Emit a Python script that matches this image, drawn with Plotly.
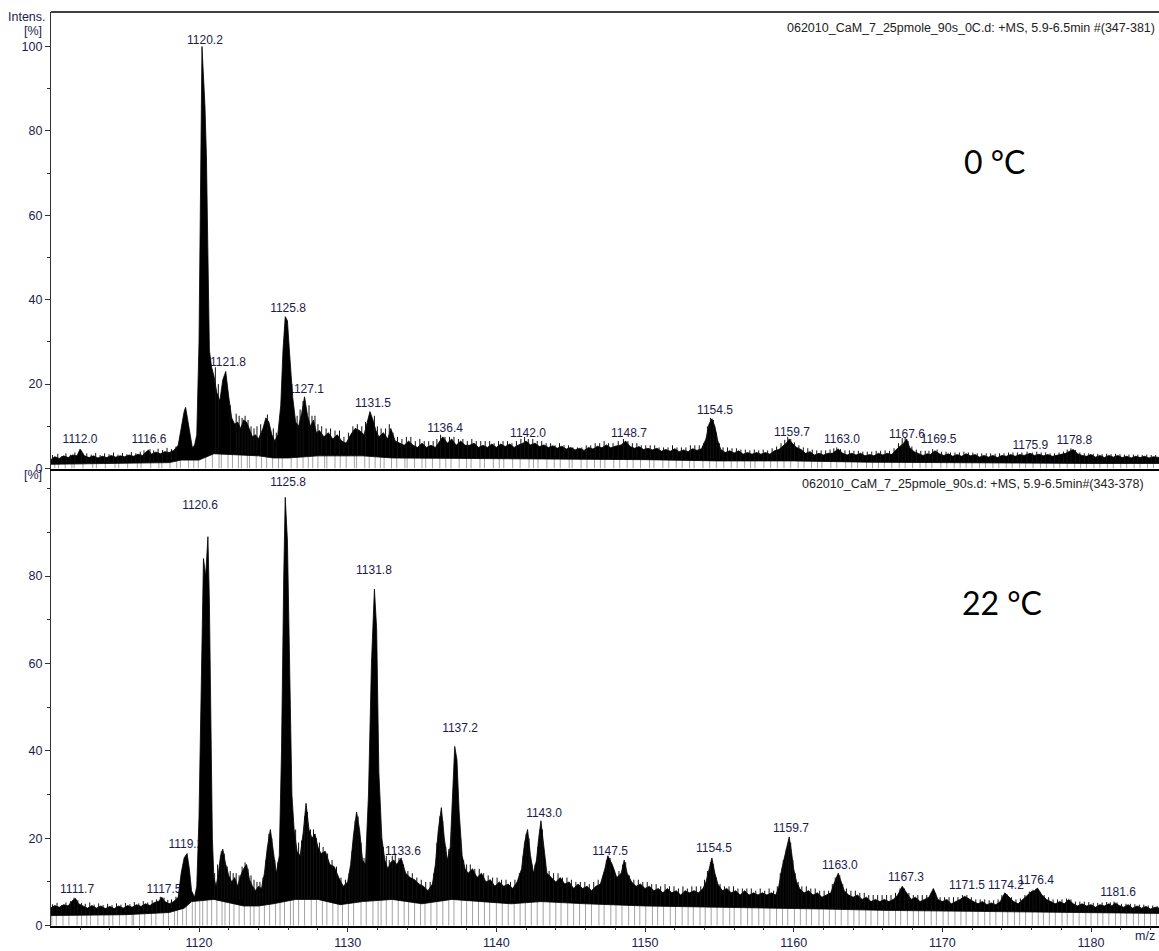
import numpy as np
import plotly.graph_objects as go

# ---------------- 0 °C spectrum (upper edge of the profile band) ----------------
mz_0c = [
    1110.0, 1110.3, 1110.6, 1110.9, 1111.2, 1111.5, 1111.8, 1112.0, 1112.3, 1112.6,
    1112.9, 1113.2, 1113.5, 1113.8, 1114.1, 1114.4, 1114.7, 1115.0, 1115.3, 1115.6,
    1115.9, 1116.2, 1116.4, 1116.6, 1116.8, 1117.1, 1117.4, 1117.7, 1118.0, 1118.3,
    1118.6, 1118.8, 1119.0, 1119.1, 1119.25, 1119.4, 1119.55, 1119.7, 1119.85, 1120.0,
    1120.1, 1120.2, 1120.3, 1120.4, 1120.5, 1120.6, 1120.7, 1120.85, 1121.0, 1121.2,
    1121.4, 1121.6, 1121.8, 1122.0, 1122.2, 1122.4, 1122.6, 1122.8, 1123.0, 1123.2,
    1123.4, 1123.6, 1123.8, 1124.0, 1124.3, 1124.5, 1124.7, 1124.9, 1125.1, 1125.3,
    1125.5, 1125.65, 1125.8, 1125.95, 1126.1, 1126.3, 1126.5, 1126.7, 1126.9, 1127.1,
    1127.3, 1127.5, 1127.7, 1127.9, 1128.1, 1128.4, 1128.7, 1129.0, 1129.3, 1129.6,
    1129.9, 1130.2, 1130.5, 1130.8, 1131.1, 1131.3, 1131.5, 1131.7, 1131.9, 1132.1,
    1132.4, 1132.7, 1132.9, 1133.2, 1133.5, 1133.8, 1134.1, 1134.4, 1134.7, 1135.0,
    1135.3, 1135.6, 1135.9, 1136.1, 1136.4, 1136.7, 1137.0, 1137.3, 1137.6, 1137.9,
    1138.2, 1138.5, 1138.8, 1139.1, 1139.4, 1139.7, 1140.0, 1140.3, 1140.6, 1140.9,
    1141.2, 1141.5, 1141.8, 1142.0, 1142.3, 1142.6, 1142.9, 1143.2, 1143.5, 1143.8,
    1144.1, 1144.4, 1144.7, 1145.0, 1145.3, 1145.6, 1145.9, 1146.2, 1146.5, 1146.8,
    1147.1, 1147.4, 1147.7, 1148.0, 1148.4, 1148.7, 1149.0, 1149.3, 1149.6, 1149.9,
    1150.2, 1150.5, 1150.8, 1151.1, 1151.4, 1151.7, 1152.0, 1152.3, 1152.6, 1152.9,
    1153.2, 1153.5, 1153.8, 1154.1, 1154.3, 1154.5, 1154.7, 1154.9, 1155.1, 1155.4,
    1155.7, 1156.0, 1156.3, 1156.6, 1156.9, 1157.2, 1157.5, 1157.8, 1158.1, 1158.4,
    1158.7, 1159.0, 1159.3, 1159.5, 1159.7, 1159.9, 1160.2, 1160.5, 1160.8, 1161.1,
    1161.4, 1161.7, 1162.0, 1162.3, 1162.6, 1162.8, 1163.0, 1163.3, 1163.6, 1163.9,
    1164.2, 1164.5, 1164.8, 1165.1, 1165.4, 1165.7, 1166.0, 1166.3, 1166.6, 1166.9,
    1167.2, 1167.4, 1167.6, 1167.8, 1168.1, 1168.4, 1168.7, 1169.0, 1169.2, 1169.5,
    1169.8, 1170.1, 1170.4, 1170.7, 1171.0, 1171.3, 1171.6, 1171.9, 1172.2, 1172.5,
    1172.8, 1173.1, 1173.4, 1173.7, 1174.0, 1174.3, 1174.6, 1174.9, 1175.2, 1175.5,
    1175.9, 1176.2, 1176.5, 1176.8, 1177.1, 1177.4, 1177.7, 1178.0, 1178.3, 1178.5,
    1178.8, 1179.1, 1179.4, 1179.7, 1180.0, 1180.3, 1180.6, 1180.9, 1181.2, 1181.5,
    1181.8, 1182.1, 1182.4, 1182.7, 1183.0, 1183.3, 1183.6, 1183.9, 1184.2, 1184.6,
]
int_0c = [
    2.0, 2.8, 2.4, 3.0, 2.6, 3.2, 3.0, 4.6, 3.0, 2.6,
    3.0, 2.5, 2.9, 2.6, 3.1, 2.7, 3.0, 2.8, 3.2, 2.9,
    3.4, 3.1, 3.8, 4.4, 3.4, 3.9, 3.5, 4.0, 3.8, 4.3,
    5.5, 10.0, 13.5, 14.5, 11.0, 8.0, 5.0, 5.5, 8.0, 30.0,
    70.0, 100.0, 93.0, 86.0, 74.0, 45.0, 28.0, 24.0, 22.0, 18.0,
    16.0, 21.0, 23.0, 17.0, 12.0, 10.5, 11.0, 9.5, 11.5, 11.0,
    9.0, 7.5, 8.0, 7.0, 9.5, 12.0, 11.0, 8.0, 6.5, 8.0,
    15.0, 28.0, 36.0, 35.0, 27.0, 17.0, 11.0, 10.0, 13.0, 17.0,
    12.5, 10.0, 11.5, 8.5, 9.0, 7.5, 8.5, 7.0, 8.0, 6.5,
    6.0, 8.0, 9.5, 9.0, 8.0, 10.5, 13.5, 11.5, 9.0, 7.5,
    8.5, 7.0, 9.5, 6.5, 6.0, 5.5, 6.5, 5.5, 5.0, 6.0,
    5.0, 5.5, 5.0, 6.0, 7.5, 6.0, 7.0, 5.5, 6.5, 5.5,
    5.5, 6.0, 5.0, 5.5, 5.0, 5.8, 5.0, 5.8, 5.2, 5.8,
    5.0, 5.6, 6.0, 6.5, 5.6, 6.0, 5.2, 5.6, 5.0, 5.4,
    4.8, 5.3, 4.6, 5.0, 4.4, 4.8, 4.3, 5.0, 4.6, 5.3,
    4.9, 5.6, 4.9, 5.3, 5.6, 6.5, 5.2, 4.8, 5.2, 4.5,
    4.8, 4.4, 4.8, 4.1, 4.5, 4.1, 4.7, 4.0, 4.4, 4.0,
    4.7, 4.3, 4.7, 7.0, 10.5, 11.8, 10.0, 6.5, 4.5, 3.8,
    4.2, 3.7, 4.2, 3.4, 3.8, 3.4, 3.8, 3.4, 3.8, 3.4,
    4.2, 4.5, 5.5, 6.0, 7.0, 6.0, 5.0, 4.5, 3.6, 4.0,
    3.2, 3.6, 3.2, 3.6, 3.6, 4.0, 4.6, 3.6, 3.2, 3.6,
    3.2, 3.6, 3.0, 3.3, 3.0, 3.6, 3.2, 3.6, 3.3, 4.5,
    5.5, 6.0, 7.0, 5.0, 4.0, 3.5, 3.1, 3.5, 3.3, 4.2,
    3.5, 3.1, 3.5, 2.9, 3.3, 2.9, 3.5, 3.0, 3.3, 2.7,
    3.1, 2.7, 3.1, 2.6, 3.1, 2.9, 3.3, 2.9, 3.3, 3.1,
    3.6, 3.1, 3.4, 3.0, 3.3, 2.9, 3.1, 3.3, 3.6, 4.0,
    4.5, 3.5, 3.1, 2.9, 3.3, 2.7, 3.1, 2.6, 3.1, 2.7,
    3.1, 2.6, 2.9, 2.5, 2.9, 2.6, 2.9, 2.5, 2.8, 2.6,
]
# lower edge of the dense profile band
base_mz_0c = [1110.0, 1114.0, 1118.0, 1118.8, 1120.0, 1121.0, 1124.0, 1125.0, 1126.0, 1128.0,
              1131.0, 1133.0, 1140.0, 1150.0, 1155.0, 1160.0, 1165.0, 1170.0, 1175.0, 1180.0, 1184.6]
base_0c = [1.0, 1.2, 1.4, 2.0, 2.0, 3.5, 3.0, 2.5, 2.5, 3.0,
           3.0, 2.5, 2.3, 2.1, 1.8, 1.8, 1.5, 1.4, 1.3, 1.2, 1.2]
# fine noise spikes rising above the band
spike_mz_0c = [
    1110.15, 1110.5, 1110.75, 1111.05, 1111.35, 1111.65, 1112.1, 1112.45, 1112.75, 1113.05,
    1113.35, 1113.65, 1113.95, 1114.25, 1114.55, 1114.85, 1115.15, 1115.45, 1115.75, 1116.05,
    1116.3, 1116.7, 1116.95, 1117.25, 1117.55, 1117.85, 1118.15, 1118.45,
    1121.1, 1121.3, 1122.1, 1122.5, 1122.7, 1122.9, 1123.1, 1123.3, 1123.5, 1123.7,
    1123.9, 1124.15, 1124.6, 1125.0, 1125.2, 1126.6, 1126.8, 1127.0, 1127.4, 1127.6,
    1127.8, 1128.0, 1128.25, 1128.55, 1128.85, 1129.15, 1129.45, 1129.75, 1130.05, 1130.35,
    1130.65, 1130.95, 1131.2, 1131.8, 1132.0, 1132.25, 1132.55, 1132.8, 1133.05, 1133.35,
    1133.65, 1133.95, 1134.25, 1134.55, 1134.85, 1135.15, 1135.45, 1135.75, 1136.0, 1136.25,
    1136.55, 1136.85, 1137.15, 1137.45, 1137.75, 1138.05, 1138.35, 1138.65, 1138.95, 1139.25,
    1139.55, 1139.85, 1140.15, 1140.45, 1140.75, 1141.05, 1141.35, 1141.65, 1141.9, 1142.15,
    1142.45, 1142.75, 1143.05, 1143.35, 1143.65, 1143.95, 1144.25, 1144.55, 1144.85, 1145.15,
    1145.45, 1145.75, 1146.05, 1146.35, 1146.65, 1146.95, 1147.25, 1147.55, 1147.85, 1148.2,
    1148.55, 1148.85, 1149.15, 1149.45, 1149.75, 1150.05, 1150.35, 1150.65, 1150.95, 1151.25,
    1151.55, 1151.85, 1152.15, 1152.45, 1152.75, 1153.05, 1153.35, 1153.65, 1153.95, 1154.2,
    1154.4, 1154.6, 1154.8, 1155.0, 1155.25, 1155.55, 1155.85, 1156.15, 1156.45, 1156.75,
    1157.05, 1157.35, 1157.65, 1157.95, 1158.25, 1158.55, 1158.85, 1159.15, 1159.4, 1159.6,
    1159.8, 1160.05, 1160.35, 1160.65, 1160.95, 1161.25, 1161.55, 1161.85, 1162.15, 1162.45,
    1162.7, 1162.9, 1163.15, 1163.45, 1163.75, 1164.05, 1164.35, 1164.65, 1164.95, 1165.25,
    1165.55, 1165.85, 1166.15, 1166.45, 1166.75, 1167.05, 1167.3, 1167.5, 1167.7, 1167.95,
    1168.25, 1168.55, 1168.85, 1169.1, 1169.35, 1169.65, 1169.95, 1170.25, 1170.55, 1170.85,
    1171.15, 1171.45, 1171.75, 1172.05, 1172.35, 1172.65, 1172.95, 1173.25, 1173.55, 1173.85,
    1174.15, 1174.45, 1174.75, 1175.05, 1175.35, 1175.7, 1176.05, 1176.35, 1176.65, 1176.95,
    1177.25, 1177.55, 1177.85, 1178.15, 1178.4, 1178.65, 1178.95, 1179.25, 1179.55, 1179.85,
    1180.15, 1180.45, 1180.75, 1181.05, 1181.35, 1181.65, 1181.95, 1182.25, 1182.55, 1182.85,
    1183.15, 1183.45, 1183.75, 1184.05, 1184.35,
]
spike_0c = [
    3.2, 3.5, 2.9, 3.6, 3.3, 3.8, 4.2, 3.6, 3.3, 3.7,
    3.2, 3.6, 3.4, 3.8, 3.3, 3.7, 3.4, 3.9, 3.6, 4.0,
    4.3, 4.6, 4.3, 4.7, 4.4, 4.9, 4.6, 5.2,
    24.0, 20.0, 15.0, 13.0, 12.5, 12.0, 12.5, 11.5, 10.0, 9.5,
    10.0, 10.5, 12.8, 9.5, 8.5, 12.5, 14.0, 16.0, 15.0, 12.5,
    12.5, 10.5, 10.0, 9.5, 9.5, 9.0, 9.0, 7.5, 8.5, 10.0,
    10.5, 10.0, 11.0, 12.5, 10.0, 9.5, 9.5, 10.5, 8.5, 7.5,
    7.0, 7.5, 7.5, 6.5, 7.0, 6.5, 6.5, 6.5, 7.0, 8.0,
    7.5, 7.5, 7.5, 7.0, 7.0, 6.5, 7.0, 6.5, 6.5, 6.5,
    6.5, 6.0, 6.5, 6.5, 6.5, 6.0, 6.5, 7.0, 7.5, 7.0,
    7.0, 6.5, 6.5, 6.0, 6.0, 5.5, 6.0, 5.5, 5.5, 5.0,
    5.0, 5.0, 5.5, 5.5, 6.0, 6.0, 6.5, 6.0, 6.0, 6.5,
    7.0, 6.5, 6.0, 6.0, 5.5, 5.5, 5.5, 5.5, 5.0, 5.0,
    5.0, 5.5, 5.0, 5.0, 5.0, 5.5, 5.5, 5.5, 6.0, 10.0,
    12.0, 11.5, 8.5, 6.0, 5.0, 5.0, 4.8, 4.8, 4.5, 4.5,
    4.3, 4.5, 4.3, 4.5, 4.3, 4.8, 5.2, 6.0, 6.8, 7.5,
    7.0, 6.2, 5.5, 5.0, 4.8, 4.5, 4.3, 4.3, 4.3, 4.5,
    4.8, 5.0, 4.6, 4.3, 4.3, 4.2, 4.2, 4.0, 4.0, 4.0,
    4.2, 4.2, 4.3, 4.2, 4.8, 6.0, 7.2, 7.4, 6.5, 5.2,
    4.5, 4.2, 4.2, 4.2, 4.6, 4.5, 4.0, 4.0, 3.8, 3.8,
    3.8, 4.0, 3.8, 3.8, 3.6, 3.6, 3.6, 3.6, 3.5, 3.6,
    3.6, 3.8, 3.8, 3.8, 3.8, 4.0, 3.8, 4.0, 3.8, 3.8,
    3.6, 3.6, 3.8, 4.0, 4.5, 4.8, 4.4, 3.8, 3.6, 3.6,
    3.5, 3.5, 3.4, 3.5, 3.4, 3.5, 3.4, 3.3, 3.3, 3.3,
    3.3, 3.2, 3.3, 3.2, 3.2,
]
# single-scan drop-outs to zero
drops_0c = [
    1110.3, 1110.55, 1111.0, 1111.45, 1111.6, 1112.2, 1112.85, 1113.1, 1113.7, 1114.35,
    1114.6, 1115.2, 1115.85, 1116.1, 1116.75, 1117.3, 1117.5, 1118.05, 1118.5, 1118.75,
    1119.3, 1119.65, 1119.95, 1120.45, 1120.9, 1121.35, 1121.5, 1121.95, 1122.25, 1122.65,
    1122.85, 1123.25, 1123.4, 1123.85, 1124.2, 1124.55, 1124.95, 1125.35, 1125.6, 1126.2,
    1126.6, 1127.0, 1127.35, 1127.65, 1128.0, 1128.45, 1128.6, 1129.15, 1129.5, 1129.9,
    1130.45, 1130.6, 1131.15, 1131.45, 1131.85, 1132.2, 1132.45, 1132.95, 1133.3, 1133.85,
    1134.0, 1134.5, 1135.0, 1135.25, 1135.7, 1136.2, 1136.6, 1136.95, 1137.5, 1138.0,
    1138.3, 1138.9, 1139.2, 1139.8, 1140.2, 1140.5, 1141.1, 1141.6, 1142.2, 1142.5,
    1142.8, 1143.4, 1143.9, 1144.3, 1144.9, 1145.1, 1145.7, 1146.1, 1146.6, 1147.0,
    1147.3, 1147.9, 1148.3, 1148.8, 1149.2, 1149.7, 1150.3, 1150.6, 1151.2, 1151.6,
    1152.1, 1152.5, 1153.0, 1153.3, 1153.9, 1154.35, 1154.8, 1155.3, 1155.8, 1156.2,
    1156.7, 1157.1, 1157.4, 1158.0, 1158.45, 1158.9, 1159.35, 1159.8, 1160.3, 1160.7,
    1161.2, 1161.6, 1161.9, 1162.5, 1162.9, 1163.5, 1163.9, 1164.3, 1164.9, 1165.3,
    1165.7, 1166.1, 1166.6, 1167.1, 1167.5, 1168.0, 1168.5, 1168.9, 1169.3, 1169.9,
    1170.3, 1170.8, 1171.2, 1171.6, 1172.0, 1172.5, 1172.9, 1173.4, 1173.8, 1174.3,
    1174.7, 1175.2, 1175.6, 1176.1, 1176.6, 1177.0, 1177.5, 1177.9, 1178.4, 1178.9,
    1179.3, 1179.7, 1180.2, 1180.6, 1181.1, 1181.5, 1182.0, 1182.4, 1182.9, 1183.3,
    1183.8, 1184.2,
]

# ---------------- 22 °C spectrum ----------------
mz_22c = [
    1110.0, 1110.3, 1110.6, 1110.9, 1111.2, 1111.5, 1111.7, 1111.9, 1112.2, 1112.5,
    1112.8, 1113.1, 1113.4, 1113.7, 1114.0, 1114.3, 1114.6, 1114.9, 1115.2, 1115.5,
    1115.8, 1116.1, 1116.4, 1116.7, 1117.0, 1117.3, 1117.5, 1117.7, 1118.0, 1118.3,
    1118.6, 1118.8, 1119.0, 1119.2, 1119.35, 1119.5, 1119.7, 1119.85, 1120.0, 1120.15,
    1120.3, 1120.45, 1120.6, 1120.7, 1120.8, 1120.9, 1121.0, 1121.15, 1121.3, 1121.45,
    1121.6, 1121.8, 1122.0, 1122.2, 1122.4, 1122.6, 1122.8, 1123.0, 1123.2, 1123.4,
    1123.6, 1123.8, 1124.0, 1124.2, 1124.4, 1124.6, 1124.8, 1125.0, 1125.2, 1125.4,
    1125.55, 1125.7, 1125.8, 1125.95, 1126.1, 1126.25, 1126.4, 1126.6, 1126.8, 1127.0,
    1127.2, 1127.4, 1127.6, 1127.8, 1128.0, 1128.2, 1128.5, 1128.8, 1129.1, 1129.4,
    1129.7, 1130.0, 1130.2, 1130.4, 1130.6, 1130.8, 1131.0, 1131.2, 1131.4, 1131.6,
    1131.8, 1131.95, 1132.1, 1132.3, 1132.5, 1132.7, 1132.9, 1133.1, 1133.3, 1133.6,
    1133.9, 1134.2, 1134.5, 1134.8, 1135.1, 1135.4, 1135.7, 1135.9, 1136.1, 1136.3,
    1136.5, 1136.7, 1136.9, 1137.05, 1137.2, 1137.35, 1137.5, 1137.7, 1137.9, 1138.1,
    1138.4, 1138.7, 1139.0, 1139.3, 1139.6, 1139.9, 1140.2, 1140.5, 1140.8, 1141.1,
    1141.4, 1141.7, 1141.9, 1142.1, 1142.3, 1142.5, 1142.7, 1142.85, 1143.0, 1143.2,
    1143.4, 1143.7, 1144.0, 1144.3, 1144.6, 1144.9, 1145.2, 1145.5, 1145.8, 1146.1,
    1146.4, 1146.7, 1147.0, 1147.3, 1147.5, 1147.8, 1148.1, 1148.4, 1148.6, 1148.8,
    1149.1, 1149.4, 1149.7, 1150.0, 1150.3, 1150.6, 1150.9, 1151.2, 1151.5, 1151.8,
    1152.1, 1152.4, 1152.7, 1153.0, 1153.3, 1153.6, 1153.9, 1154.1, 1154.3, 1154.5,
    1154.7, 1154.9, 1155.2, 1155.5, 1155.8, 1156.1, 1156.4, 1156.7, 1157.0, 1157.3,
    1157.6, 1157.9, 1158.2, 1158.5, 1158.8, 1159.0, 1159.2, 1159.4, 1159.55, 1159.7,
    1159.85, 1160.0, 1160.2, 1160.4, 1160.7, 1161.0, 1161.3, 1161.6, 1161.9, 1162.2,
    1162.5, 1162.7, 1162.85, 1163.0, 1163.2, 1163.4, 1163.7, 1164.0, 1164.3, 1164.6,
    1164.9, 1165.2, 1165.5, 1165.8, 1166.1, 1166.4, 1166.7, 1167.0, 1167.3, 1167.6,
    1167.9, 1168.2, 1168.5, 1168.8, 1169.1, 1169.4, 1169.7, 1170.0, 1170.3, 1170.6,
    1170.9, 1171.2, 1171.5, 1171.8, 1172.1, 1172.4, 1172.7, 1173.0, 1173.3, 1173.6,
    1173.9, 1174.2, 1174.5, 1174.8, 1175.1, 1175.4, 1175.7, 1176.0, 1176.2, 1176.4,
    1176.7, 1177.0, 1177.3, 1177.6, 1177.9, 1178.2, 1178.5, 1178.8, 1179.1, 1179.4,
    1179.7, 1180.0, 1180.3, 1180.6, 1180.9, 1181.2, 1181.4, 1181.6, 1181.9, 1182.2,
    1182.5, 1182.8, 1183.1, 1183.4, 1183.7, 1184.0, 1184.3, 1184.6,
]
int_22c = [
    4.0, 4.6, 4.2, 4.8, 4.5, 5.8, 6.2, 5.0, 4.5, 4.0,
    4.6, 4.0, 4.5, 3.9, 4.4, 3.9, 4.5, 4.0, 4.6, 4.2,
    4.8, 4.4, 5.0, 4.6, 5.3, 5.6, 6.5, 5.5, 5.0, 5.5,
    6.5, 12.0, 15.5, 16.5, 13.0, 8.0, 6.5, 9.0, 25.0, 60.0,
    84.0, 80.0, 89.0, 74.0, 40.0, 20.0, 11.0, 9.0, 12.0, 16.0,
    17.5, 14.0, 11.5, 10.0, 11.0, 9.0, 11.5, 13.0, 14.0, 10.5,
    9.0, 8.0, 9.0, 8.5, 12.0, 18.0, 22.0, 17.0, 12.0, 16.0,
    40.0, 80.0, 98.0, 88.0, 60.0, 30.0, 22.0, 17.0, 16.0, 21.0,
    28.0, 22.0, 20.0, 21.0, 18.0, 16.5, 17.0, 14.0, 13.5, 11.0,
    9.0, 10.0, 14.0, 21.0, 26.0, 22.0, 15.0, 14.0, 30.0, 60.0,
    77.0, 68.0, 35.0, 20.0, 15.0, 13.0, 14.5, 15.0, 14.0, 15.5,
    12.0, 11.0, 10.5, 9.5, 9.0, 8.0, 9.5, 14.0, 22.0, 27.0,
    20.0, 15.0, 18.0, 30.0, 41.0, 38.0, 26.0, 16.0, 13.0, 12.0,
    13.0, 11.0, 12.0, 10.0, 10.5, 9.0, 10.0, 9.0, 9.5, 8.5,
    10.0, 13.0, 19.0, 22.0, 16.0, 12.0, 15.0, 20.0, 24.0, 18.0,
    12.0, 11.0, 10.0, 11.0, 9.5, 10.0, 8.5, 9.5, 8.5, 9.0,
    8.0, 9.0, 9.5, 13.0, 16.0, 14.0, 11.0, 12.0, 15.0, 12.0,
    10.0, 9.0, 9.5, 8.5, 9.0, 8.0, 8.5, 7.5, 8.5, 7.5,
    8.0, 7.0, 8.0, 7.5, 8.0, 7.5, 8.5, 10.0, 13.0, 15.5,
    12.0, 9.5, 8.0, 8.5, 7.5, 8.0, 7.0, 8.0, 7.0, 7.5,
    7.0, 7.5, 7.0, 7.5, 7.0, 9.0, 13.0, 16.0, 18.0, 20.3,
    17.0, 13.0, 10.0, 8.5, 7.5, 8.0, 7.0, 7.5, 6.5, 7.0,
    7.5, 9.5, 11.0, 12.0, 10.0, 8.0, 7.0, 6.5, 7.0, 6.0,
    6.5, 5.5, 6.0, 5.5, 6.0, 5.5, 6.0, 7.0, 9.0, 7.5,
    6.0, 6.5, 5.5, 6.0, 6.5, 8.5, 6.0, 5.5, 6.0, 5.0,
    5.5, 6.0, 6.7, 6.0, 5.5, 5.0, 5.5, 4.8, 5.2, 4.8,
    5.5, 7.5, 6.5, 5.5, 5.0, 6.0, 7.0, 7.8, 8.0, 8.6,
    7.0, 6.0, 5.5, 5.0, 5.5, 5.0, 6.0, 5.0, 4.5, 5.0,
    4.5, 4.8, 4.2, 4.8, 4.5, 5.0, 4.5, 5.2, 4.6, 4.2,
    4.8, 4.0, 4.5, 4.0, 4.4, 3.8, 4.2, 4.0,
]
base_mz_22c = [1110.0, 1115.0, 1118.0, 1119.0, 1119.5, 1121.0, 1123.0, 1124.0, 1125.0, 1126.5,
               1128.0, 1129.5, 1131.0, 1133.0, 1135.0, 1137.0, 1139.0, 1141.0, 1143.0, 1146.0,
               1150.0, 1154.0, 1158.0, 1162.0, 1166.0, 1170.0, 1174.0, 1178.0, 1184.6]
base_22c = [2.3, 2.5, 3.0, 4.0, 5.5, 6.0, 4.5, 4.5, 5.0, 6.0,
            6.0, 4.8, 5.5, 6.0, 5.0, 6.0, 5.5, 5.0, 5.5, 5.0,
            4.5, 4.2, 4.0, 3.8, 3.5, 3.3, 3.2, 3.0, 2.8]
spike_mz_22c = [
    1110.15, 1110.45, 1110.75, 1111.05, 1111.35, 1111.6, 1111.85, 1112.1, 1112.35, 1112.65,
    1112.95, 1113.25, 1113.55, 1113.85, 1114.15, 1114.45, 1114.75, 1115.05, 1115.35, 1115.65,
    1115.95, 1116.25, 1116.55, 1116.85, 1117.15, 1117.4, 1117.65, 1117.9, 1118.15, 1118.45,
    1118.7, 1121.05, 1121.25, 1121.5, 1121.7, 1121.9, 1122.1, 1122.3, 1122.5, 1122.7,
    1122.9, 1123.1, 1123.3, 1123.5, 1123.7, 1123.9, 1124.1, 1124.3, 1124.5, 1124.7,
    1124.9, 1125.1, 1125.3, 1126.5, 1126.7, 1126.9, 1127.1, 1127.3, 1127.5, 1127.7,
    1127.9, 1128.1, 1128.35, 1128.65, 1128.95, 1129.25, 1129.55, 1129.85, 1130.1, 1130.3,
    1130.5, 1130.7, 1130.9, 1131.1, 1131.3, 1132.2, 1132.4, 1132.6, 1132.8, 1133.0,
    1133.2, 1133.45, 1133.75, 1134.05, 1134.35, 1134.65, 1134.95, 1135.25, 1135.55, 1135.8,
    1136.0, 1136.2, 1136.4, 1136.6, 1136.8, 1137.0, 1137.6, 1137.8, 1138.0, 1138.25,
    1138.55, 1138.85, 1139.15, 1139.45, 1139.75, 1140.05, 1140.35, 1140.65, 1140.95, 1141.25,
    1141.55, 1141.8, 1142.0, 1142.2, 1142.4, 1142.6, 1142.8, 1142.95, 1143.1, 1143.3,
    1143.55, 1143.85, 1144.15, 1144.45, 1144.75, 1145.05, 1145.35, 1145.65, 1145.95, 1146.25,
    1146.55, 1146.85, 1147.15, 1147.4, 1147.65, 1147.95, 1148.25, 1148.5, 1148.7, 1148.95,
    1149.25, 1149.55, 1149.85, 1150.15, 1150.45, 1150.75, 1151.05, 1151.35, 1151.65, 1151.95,
    1152.25, 1152.55, 1152.85, 1153.15, 1153.45, 1153.75, 1154.0, 1154.2, 1154.4, 1154.6,
    1154.8, 1155.05, 1155.35, 1155.65, 1155.95, 1156.25, 1156.55, 1156.85, 1157.15, 1157.45,
    1157.75, 1158.05, 1158.35, 1158.65, 1158.9, 1159.1, 1159.3, 1159.5, 1159.65, 1159.8,
    1159.95, 1160.1, 1160.3, 1160.55, 1160.85, 1161.15, 1161.45, 1161.75, 1162.05, 1162.35,
    1162.6, 1162.8, 1162.95, 1163.1, 1163.3, 1163.55, 1163.85, 1164.15, 1164.45, 1164.75,
    1165.05, 1165.35, 1165.65, 1165.95, 1166.25, 1166.55, 1166.85, 1167.15, 1167.45, 1167.75,
    1168.05, 1168.35, 1168.65, 1168.95, 1169.25, 1169.55, 1169.85, 1170.15, 1170.45, 1170.75,
    1171.05, 1171.35, 1171.65, 1171.95, 1172.25, 1172.55, 1172.85, 1173.15, 1173.45, 1173.75,
    1174.0, 1174.35, 1174.65, 1174.95, 1175.25, 1175.55, 1175.85, 1176.1, 1176.3, 1176.55,
    1176.85, 1177.15, 1177.45, 1177.75, 1178.05, 1178.35, 1178.65, 1178.95, 1179.25, 1179.55,
    1179.85, 1180.15, 1180.45, 1180.75, 1181.05, 1181.3, 1181.55, 1181.75, 1182.05, 1182.35,
    1182.65, 1182.95, 1183.25, 1183.55, 1183.85, 1184.15, 1184.45,
]
spike_22c = [
    4.9, 5.2, 4.7, 5.3, 5.6, 6.4, 5.8, 5.2, 5.0, 5.3,
    4.8, 5.1, 4.7, 5.0, 4.7, 5.1, 4.8, 5.2, 4.9, 5.4,
    5.1, 5.6, 5.3, 5.8, 6.0, 6.6, 6.4, 5.9, 6.0, 6.6,
    9.0, 12.0, 14.0, 17.0, 16.5, 13.5, 12.5, 12.0, 12.0, 11.5,
    13.5, 14.5, 13.0, 11.5, 10.5, 10.0, 10.0, 11.0, 15.0, 21.0,
    20.0, 15.0, 14.5, 22.0, 19.0, 19.5, 25.0, 26.0, 22.0, 22.0,
    20.0, 19.0, 18.0, 16.5, 15.0, 13.5, 11.0, 10.5, 12.0, 17.0,
    24.0, 25.0, 19.0, 15.5, 18.0, 25.0, 18.0, 16.0, 15.0, 16.0,
    16.5, 15.5, 14.0, 12.5, 12.0, 11.0, 10.5, 10.0, 10.0, 12.0,
    19.0, 25.0, 24.0, 18.0, 17.5, 22.0, 20.0, 15.0, 14.0, 14.0,
    13.0, 13.0, 12.0, 11.5, 11.0, 11.0, 10.5, 10.5, 10.0, 10.5,
    12.0, 16.0, 21.0, 20.0, 14.0, 14.0, 18.0, 22.0, 22.0, 15.0,
    12.5, 12.0, 12.0, 11.0, 11.0, 10.5, 10.0, 10.0, 10.0, 9.5,
    10.0, 10.5, 11.0, 15.0, 15.5, 12.5, 12.5, 14.0, 14.5, 11.5,
    10.5, 10.5, 10.0, 10.0, 9.5, 9.5, 9.0, 9.5, 9.0, 9.0,
    8.5, 9.0, 8.5, 9.0, 9.0, 9.0, 10.5, 12.5, 14.5, 14.0,
    11.0, 9.5, 9.0, 9.0, 9.0, 8.5, 8.5, 8.5, 8.5, 8.0,
    8.5, 8.0, 8.5, 8.0, 9.0, 12.0, 15.0, 17.5, 19.0, 19.0,
    15.0, 12.0, 10.0, 9.0, 9.0, 8.5, 8.5, 8.0, 8.0, 8.0,
    9.5, 11.0, 11.5, 11.5, 9.5, 8.5, 8.0, 8.0, 7.5, 7.5,
    7.0, 7.0, 7.0, 7.0, 7.0, 7.0, 7.5, 8.5, 8.5, 7.5,
    7.0, 7.0, 7.0, 7.0, 7.5, 7.5, 6.5, 6.5, 6.5, 6.5,
    6.5, 7.0, 7.0, 6.5, 6.0, 6.0, 6.0, 5.8, 5.8, 6.0,
    7.0, 7.2, 6.5, 6.0, 6.2, 7.0, 7.8, 8.2, 8.4, 7.8,
    7.0, 6.5, 6.0, 6.0, 6.0, 6.2, 6.0, 5.5, 5.5, 5.5,
    5.4, 5.2, 5.2, 5.3, 5.4, 5.3, 5.5, 5.3, 5.0, 5.0,
    5.0, 4.9, 4.8, 4.8, 4.6, 4.6, 4.5,
]
drops_22c = [
    1110.1, 1110.4, 1110.85, 1111.25, 1111.8, 1112.1, 1112.45, 1112.7, 1113.2, 1113.6,
    1113.95, 1114.2, 1114.65, 1115.1, 1115.5, 1115.6, 1116.0, 1116.35, 1116.8, 1117.1,
    1117.6, 1117.95, 1118.35, 1118.55, 1118.9, 1119.15, 1119.55, 1119.75, 1120.05, 1120.25,
    1120.55, 1120.85, 1121.2, 1121.55, 1121.75, 1122.05, 1122.35, 1122.7, 1123.05, 1123.45,
    1123.7, 1124.05, 1124.4, 1124.75, 1125.15, 1125.45, 1125.75, 1126.15, 1126.35, 1126.7,
    1127.1, 1127.55, 1127.9, 1128.3, 1128.6, 1129.0, 1129.35, 1129.65, 1130.05, 1130.4,
    1130.9, 1131.25, 1131.7, 1132.05, 1132.25, 1132.6, 1133.0, 1133.4, 1133.8, 1134.1,
    1134.5, 1134.9, 1135.2, 1135.6, 1136.0, 1136.4, 1136.8, 1137.15, 1137.65, 1138.0,
    1138.4, 1138.8, 1139.2, 1139.55, 1140.0, 1140.4, 1140.8, 1141.2, 1141.6, 1141.95,
    1142.35, 1142.75, 1143.15, 1143.6, 1144.0, 1144.35, 1144.8, 1145.2, 1145.6, 1146.0,
    1146.4, 1146.9, 1147.25, 1147.7, 1148.05, 1148.45, 1148.9, 1149.3, 1149.65, 1150.05,
    1150.5, 1150.85, 1151.25, 1151.7, 1152.05, 1152.5, 1152.9, 1153.25, 1153.7, 1154.05,
    1154.45, 1154.85, 1155.25, 1155.7, 1156.0, 1156.45, 1156.9, 1157.2, 1157.65, 1158.0,
    1158.4, 1158.85, 1159.25, 1159.6, 1160.05, 1160.45, 1160.85, 1161.2, 1161.7, 1162.0,
    1162.4, 1162.8, 1163.2, 1163.65, 1164.05, 1164.4, 1164.85, 1165.2, 1165.65, 1166.05,
    1166.4, 1166.85, 1167.2, 1167.65, 1168.05, 1168.4, 1168.8, 1169.25, 1169.6, 1170.05,
    1170.4, 1170.85, 1171.25, 1171.6, 1172.05, 1172.4, 1172.85, 1173.2, 1173.6, 1174.05,
    1174.4, 1174.85, 1175.2, 1175.6, 1176.05, 1176.45, 1176.8, 1177.2, 1177.6, 1178.05,
    1178.4, 1178.8, 1179.2, 1179.65, 1180.0, 1180.45, 1180.8, 1181.2, 1181.65, 1182.0,
    1182.4, 1182.85, 1183.2, 1183.6, 1184.0, 1184.4,
]

# ---------------- peak annotations: labelled m/z, label centre (m/z, %) ----------------
peaks_0c = [1112.0, 1116.6, 1120.2, 1121.8, 1125.8, 1127.1, 1131.5, 1136.4, 1142.0, 1148.7,
            1154.5, 1159.7, 1163.0, 1167.6, 1169.5, 1175.9, 1178.8]
lab_x_0c = [1112.0, 1116.64, 1120.4, 1121.95, 1125.99, 1127.2, 1131.7, 1136.55, 1142.13, 1148.92,
            1154.71, 1159.89, 1163.25, 1167.62, 1169.75, 1175.92, 1178.88]
lab_y_0c = [6.8, 6.8, 101.4, 24.9, 37.9, 18.6, 15.3, 9.4, 8.2, 8.2,
            13.6, 8.5, 6.8, 8.0, 6.8, 5.4, 6.6]

peaks_22c = [1111.7, 1117.5, 1119.2, 1120.6, 1125.8, 1131.8, 1133.6, 1137.2, 1143.0, 1147.5,
             1154.5, 1159.7, 1163.0, 1167.3, 1171.5, 1174.2, 1176.4, 1181.6]
lab_x_22c = [1111.8, 1117.65, 1119.12, 1120.07, 1125.99, 1131.77, 1133.72, 1137.56, 1143.21, 1147.65,
             1154.64, 1159.82, 1163.11, 1167.55, 1171.66, 1174.28, 1176.3, 1181.82]
lab_y_22c = [8.1, 8.1, 18.5, 96.0, 101.25, 81.25, 16.9, 44.9, 25.6, 16.9,
             17.6, 22.2, 13.75, 10.8, 9.0, 9.0, 10.3, 7.4]

headers = [
    "062010_CaM_7_25pmole_90s_0C.d: +MS, 5.9-6.5min #(347-381)",
    "062010_CaM_7_25pmole_90s.d: +MS, 5.9-6.5min#(343-378)",
]
temps = ["0 °C", "22 °C"]

# ---------------- layout geometry ----------------
W, H = 1159, 951
X_RANGE = [1110.045, 1184.574]
X_DOM = [51 / W, 1.0]
TOP_DOM = [1 - 472 / H, 1 - 12 / H]
BOT_DOM = [1 - 932.5 / H, 1 - 472 / H]
TOP_RANGE = [0, 108.2]
BOT_RANGE = [0, 104.6]

INK = "#1c1c4a"
FONT = "Liberation Sans, Arial, sans-serif"

fig = go.Figure()


def add_panel(mz, inten, base_mz, base, spike_mz, spike, drops, peaks, lx, ly, xa, ya):
    mz = np.asarray(mz)
    inten = np.asarray(inten)
    base_mz = np.asarray(base_mz)
    base = np.asarray(base)
    # peak labels first so the spectrum can overlap them
    fig.add_trace(go.Scatter(
        x=lx, y=ly, mode="text", text=[f"{p:.1f}" for p in peaks],
        textposition="middle center",
        textfont=dict(family=FONT, size=12, color=INK),
        xaxis=xa, yaxis=ya, hoverinfo="skip", showlegend=False))
    # grey drop-out strokes down to zero
    dx, dy = [], []
    for d in drops:
        i = int(np.searchsorted(mz, d))
        i = min(max(i, 1), len(mz) - 1)
        h = min(inten[i - 1], inten[i])
        dx += [d, d, None]
        dy += [0, h, None]
    fig.add_trace(go.Scatter(
        x=dx, y=dy, mode="lines", line=dict(color="#a3a3a3", width=1),
        xaxis=xa, yaxis=ya, hoverinfo="skip", showlegend=False))
    # dense profile band: upper edge out, lower edge back
    px = list(mz) + list(base_mz[::-1])
    py = list(inten) + list(base[::-1])
    fig.add_trace(go.Scatter(
        x=px, y=py, mode="lines", fill="toself", fillcolor="black",
        line=dict(color="black", width=0.8),
        xaxis=xa, yaxis=ya, hoverinfo="skip", showlegend=False))
    # thin noise spikes standing on the band
    sx, sy = [], []
    for s, h in zip(spike_mz, spike):
        j = int(np.searchsorted(base_mz, s))
        j = min(max(j, 1), len(base_mz) - 1)
        b = max(base[j - 1], base[j])
        sx += [s, s, None]
        sy += [b, h, None]
    fig.add_trace(go.Scatter(
        x=sx, y=sy, mode="lines", line=dict(color="#111", width=1),
        xaxis=xa, yaxis=ya, hoverinfo="skip", showlegend=False))


add_panel(mz_0c, int_0c, base_mz_0c, base_0c, spike_mz_0c, spike_0c, drops_0c,
          peaks_0c, lab_x_0c, lab_y_0c, "x2", "y2")
add_panel(mz_22c, int_22c, base_mz_22c, base_22c, spike_mz_22c, spike_22c, drops_22c,
          peaks_22c, lab_x_22c, lab_y_22c, "x", "y")

tick_font = dict(family=FONT, size=12.5, color=INK)

fig.update_layout(
    width=W, height=H,
    margin=dict(l=0, r=0, t=0, b=0),
    paper_bgcolor="white", plot_bgcolor="white",
    showlegend=False,
    xaxis=dict(
        domain=X_DOM, range=X_RANGE, anchor="y",
        tickvals=[1120, 1130, 1140, 1150, 1160, 1170, 1180],
        ticks="outside", ticklen=5, tickwidth=1, tickcolor="#333",
        minor=dict(tick0=1110, dtick=2, ticks="outside", ticklen=3, tickcolor="#333"),
        showline=True, linecolor="black", linewidth=1.5,
        showgrid=False, zeroline=False, tickfont=tick_font,
    ),
    xaxis2=dict(
        domain=X_DOM, range=X_RANGE, anchor="y2", matches="x",
        showticklabels=False, ticks="",
        showline=True, linecolor="black", linewidth=2,
        showgrid=False, zeroline=False,
    ),
    yaxis=dict(
        domain=BOT_DOM, range=BOT_RANGE, anchor="x",
        tickvals=[0, 20, 40, 60, 80],
        ticks="outside", ticklen=5, tickwidth=1, tickcolor="#333",
        minor=dict(tick0=0, dtick=10, ticks="outside", ticklen=3, tickcolor="#333"),
        showline=True, linecolor="#333", linewidth=1.2,
        showgrid=False, zeroline=False, tickfont=tick_font,
    ),
    yaxis2=dict(
        domain=TOP_DOM, range=TOP_RANGE, anchor="x2",
        tickvals=[0, 20, 40, 60, 80, 100],
        ticks="outside", ticklen=5, tickwidth=1, tickcolor="#333",
        minor=dict(tick0=0, dtick=10, ticks="outside", ticklen=3, tickcolor="#333"),
        showline=True, linecolor="#333", linewidth=1.2,
        showgrid=False, zeroline=False, tickfont=tick_font,
    ),
)

# frame line along the top of the upper panel
fig.add_shape(type="line", xref="paper", yref="paper",
              x0=X_DOM[0], x1=1, y0=TOP_DOM[1], y1=TOP_DOM[1],
              line=dict(color="black", width=1.5))

small = dict(family=FONT, size=12.5, color=INK)
ann = [
    dict(text="Intens.", x=48 / W, y=1 - 17 / H, xanchor="right", yanchor="middle", font=small),
    dict(text="[%]", x=44 / W, y=1 - 31 / H, xanchor="right", yanchor="middle", font=small),
    dict(text="[%]", x=44 / W, y=1 - 479 / H, xanchor="right", yanchor="middle", font=small),
    dict(text="m/z", x=1157 / W, y=1 - 943 / H, xanchor="right", yanchor="middle",
         font=dict(family=FONT, size=12.5, color=INK)),
    dict(text=headers[0], x=1157 / W, y=1 - 28 / H, xanchor="right", yanchor="middle",
         font=dict(family=FONT, size=12.5, color="#222")),
    dict(text=headers[1], x=1146 / W, y=1 - 488 / H, xanchor="right", yanchor="middle",
         font=dict(family=FONT, size=12.5, color="#222")),
    dict(text=temps[0], x=962 / W, y=1 - 163 / H, xanchor="left", yanchor="middle",
         font=dict(family="Lato, Open Sans, sans-serif", size=32, color="black")),
    dict(text=temps[1], x=960 / W, y=1 - 607 / H, xanchor="left", yanchor="middle",
         font=dict(family="Lato, Open Sans, sans-serif", size=32, color="black")),
]
for a in ann:
    fig.add_annotation(xref="paper", yref="paper", showarrow=False, **a)

fig.write_html("out.html")
